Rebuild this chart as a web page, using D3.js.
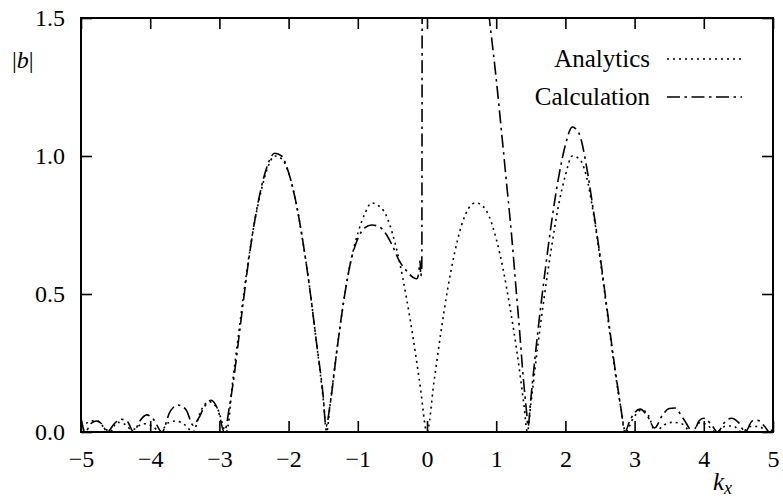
<!DOCTYPE html>
<html>
  <head>
    <title></title>
    <style>
      body, html{
        margin: 0;
        width: 100%;
        height: 100%;
        background: #fff;
      }
      svg text{
        font-family: "Liberation Serif", "Times New Roman", serif;
        fill: #000;
      }
      .axis path{
        display: none;
      }
      .axis line{
        stroke: #000;
        stroke-width: 1.6px;
      }
    </style>
  </head>
  <body>
    <div id="chart"></div>
    <script src="https://cdnjs.cloudflare.com/ajax/libs/d3/7.8.5/d3.min.js" charset="utf-8"></script>
    <script>

      // |b|, pairs of [kx, |b|]
      var analytics = [
        [-5.0, 0.02], [-4.9, 0.035], [-4.78, 0.042], [-4.66, 0.015], [-4.58, 0.0],
        [-4.48, 0.035], [-4.38, 0.03], [-4.26, 0.008], [-4.1, 0.03], [-3.96, 0.02],
        [-3.86, 0.0], [-3.74, 0.033], [-3.62, 0.04], [-3.5, 0.026], [-3.38, 0.0],
        [-3.28, 0.07], [-3.15, 0.11], [-3.02, 0.08], [-2.9, 0.0],
        [-2.8, 0.2], [-2.7, 0.4], [-2.6, 0.59], [-2.5, 0.75], [-2.4, 0.87], [-2.3, 0.96],
        [-2.2, 1.0], [-2.1, 0.99], [-2.0, 0.94], [-1.9, 0.84], [-1.8, 0.7], [-1.7, 0.53],
        [-1.6, 0.33], [-1.5, 0.12], [-1.45, 0.0],
        [-1.4, 0.1], [-1.3, 0.3], [-1.2, 0.48], [-1.1, 0.62], [-1.0, 0.72], [-0.9, 0.79],
        [-0.8, 0.83], [-0.7, 0.82], [-0.6, 0.79], [-0.5, 0.72], [-0.4, 0.62], [-0.3, 0.49],
        [-0.2, 0.34], [-0.1, 0.17], [0, 0],
        [0.1, 0.18], [0.2, 0.36], [0.3, 0.52], [0.4, 0.65], [0.5, 0.75], [0.6, 0.81],
        [0.7, 0.83], [0.8, 0.82], [0.9, 0.78], [1.0, 0.7], [1.1, 0.59], [1.2, 0.45],
        [1.3, 0.29], [1.4, 0.1], [1.45, 0],
        [1.5, 0.1], [1.6, 0.31], [1.7, 0.5], [1.8, 0.67], [1.9, 0.82], [2.0, 0.93],
        [2.1, 1.0], [2.2, 0.99], [2.3, 0.93], [2.4, 0.8], [2.5, 0.63], [2.6, 0.44],
        [2.7, 0.25], [2.8, 0.09], [2.87, 0],
        [2.98, 0.05], [3.1, 0.08], [3.2, 0.06], [3.3, 0.0], [3.42, 0.025], [3.55, 0.035],
        [3.68, 0.03], [3.82, 0.0], [3.95, 0.035], [4.05, 0.025], [4.18, 0.0], [4.3, 0.02],
        [4.42, 0.022], [4.55, 0.0], [4.68, 0.02], [4.8, 0.02], [4.92, 0.0], [5.0, 0.01]
      ]

      var calculation = [
        [-5.0, 0.05], [-4.94, 0.0], [-4.86, 0.03], [-4.78, 0.04], [-4.7, 0.03], [-4.62, 0.0],
        [-4.52, 0.03], [-4.42, 0.046], [-4.33, 0.038], [-4.24, 0.0], [-4.15, 0.04],
        [-4.05, 0.062], [-3.95, 0.045], [-3.83, 0.0], [-3.72, 0.07], [-3.6, 0.098],
        [-3.48, 0.08], [-3.38, 0.025], [-3.3, 0.05], [-3.22, 0.09], [-3.12, 0.115],
        [-3.02, 0.08], [-2.93, 0.0],
        [-2.85, 0.1], [-2.8, 0.18], [-2.7, 0.38], [-2.6, 0.58], [-2.5, 0.75], [-2.4, 0.88],
        [-2.3, 0.97], [-2.2, 1.01], [-2.1, 1.0], [-2.0, 0.94], [-1.9, 0.84], [-1.8, 0.7],
        [-1.7, 0.53], [-1.6, 0.33], [-1.5, 0.13], [-1.46, 0.02],
        [-1.4, 0.1], [-1.3, 0.3], [-1.2, 0.48], [-1.1, 0.62], [-1.0, 0.7], [-0.9, 0.74],
        [-0.8, 0.75], [-0.7, 0.745], [-0.6, 0.72], [-0.5, 0.675], [-0.4, 0.62], [-0.3, 0.585],
        [-0.2, 0.56], [-0.15, 0.555], [-0.12, 0.575], [-0.1, 0.62], [-0.09, 0.565],
        [-0.075, 0.6], [-0.065, 2.6], [0.2, 4.2], [0.6, 2.7], [0.85, 1.61], [0.9, 1.5],
        [1.0, 1.28], [1.08, 1.08], [1.15, 0.9], [1.22, 0.72], [1.28, 0.54], [1.34, 0.36],
        [1.39, 0.2], [1.44, 0.07], [1.46, 0.02],
        [1.5, 0.12], [1.6, 0.36], [1.7, 0.57], [1.8, 0.76], [1.9, 0.92], [2.0, 1.04],
        [2.1, 1.105], [2.2, 1.08], [2.3, 0.97], [2.4, 0.81], [2.5, 0.64], [2.6, 0.45],
        [2.7, 0.26], [2.8, 0.09], [2.86, 0.0],
        [2.93, 0.04], [3.0, 0.07], [3.08, 0.083], [3.18, 0.06], [3.29, 0.015], [3.4, 0.06],
        [3.5, 0.085], [3.58, 0.087], [3.7, 0.05], [3.85, 0.0], [3.93, 0.04], [4.0, 0.05],
        [4.1, 0.03], [4.2, 0.0], [4.3, 0.035], [4.4, 0.05], [4.5, 0.035], [4.6, 0.0],
        [4.7, 0.04], [4.78, 0.042], [4.88, 0.02], [4.95, 0.0], [5.0, 0.01]
      ]

      var xTicks = [-5, -4, -3, -2, -1, 0, 1, 2, 3, 4, 5]
      var yTicks = [0, 0.5, 1.0, 1.5]
      var legendLabels = ['Analytics', 'Calculation']

      var serif = '"Liberation Serif", "Times New Roman", serif'
      var width = 783, height = 501
      var m = {left: 81, right: 10, top: 18, bottom: 69}
      var w = width - m.left - m.right, h = height - m.top - m.bottom

      var x = d3.scaleLinear().domain([-5, 5]).range([0, w])
      var y = d3.scaleLinear().domain([0, 1.5]).range([h, 0])

      var svg = d3.select('#chart').append('svg').attr('width', width).attr('height', height)
      var g = svg.append('g').attr('transform', 'translate(' + m.left + ',' + m.top + ')')

      g.append('clipPath').attr('id', 'clip')
        .append('rect').attr('width', w).attr('height', h)

      var fmtX = d3.format('d'), fmtY = d3.format('.1f')

      g.append('g').attr('class', 'axis').attr('transform', 'translate(0,' + h + ')')
        .call(d3.axisBottom(x).tickValues(xTicks).tickSize(-11).tickPadding(18).tickFormat(fmtX))
      g.append('g').attr('class', 'axis')
        .call(d3.axisTop(x).tickValues(xTicks).tickSize(-11).tickFormat(''))
      g.append('g').attr('class', 'axis')
        .call(d3.axisLeft(y).tickValues(yTicks).tickSize(-11).tickPadding(16).tickFormat(fmtY))
      g.append('g').attr('class', 'axis').attr('transform', 'translate(' + w + ',0)')
        .call(d3.axisRight(y).tickValues(yTicks).tickSize(-11).tickFormat(''))

      g.selectAll('.axis text')
        .style('font-family', serif)
        .style('font-size', '24px')

      var line = d3.line()
        .x(function(d){ return x(d[0]) })
        .y(function(d){ return y(d[1]) })
        .curve(d3.curveMonotoneX)

      var styles = [
        {data: analytics, dash: '2,4'},
        {data: calculation, dash: '13,4.5,2.5,4.5'}
      ]

      var plot = g.append('g').attr('clip-path', 'url(#clip)')
      styles.forEach(function(s){
        plot.append('path').datum(s.data)
          .attr('d', line)
          .attr('fill', 'none')
          .attr('stroke', '#000')
          .attr('stroke-width', 1.6)
          .attr('stroke-dasharray', s.dash)
      })

      g.append('rect').attr('width', w).attr('height', h)
        .attr('fill', 'none').attr('stroke', '#000').attr('stroke-width', 2)

      // legend
      var leg = g.append('g').attr('transform', 'translate(' + (650 - m.left) + ',' + (67 - m.top) + ')')
      legendLabels.forEach(function(lab, i){
        var row = leg.append('g').attr('transform', 'translate(0,' + (i * 38) + ')')
        row.append('text').attr('text-anchor', 'end')
          .style('font-family', serif).style('font-size', '25px').text(lab)
        row.append('line').attr('x1', 17).attr('x2', 92).attr('y1', -8).attr('y2', -8)
          .attr('stroke', '#000').attr('stroke-width', 1.6)
          .attr('stroke-dasharray', styles[i].dash)
      })

      // axis labels
      var yl = svg.append('text').attr('x', 12).attr('y', 68)
        .style('font-family', serif).style('font-size', '24px')
      yl.append('tspan').text('|')
      yl.append('tspan').style('font-style', 'italic').text('b')
      yl.append('tspan').text('|')

      var xl = svg.append('text').attr('x', 713).attr('y', 490)
        .style('font-family', serif).style('font-size', '25px')
      xl.append('tspan').style('font-style', 'italic').text('k')
      xl.append('tspan').attr('dy', 4).style('font-style', 'italic').style('font-size', '18px').text('x')

    </script>
  </body>
</html>
